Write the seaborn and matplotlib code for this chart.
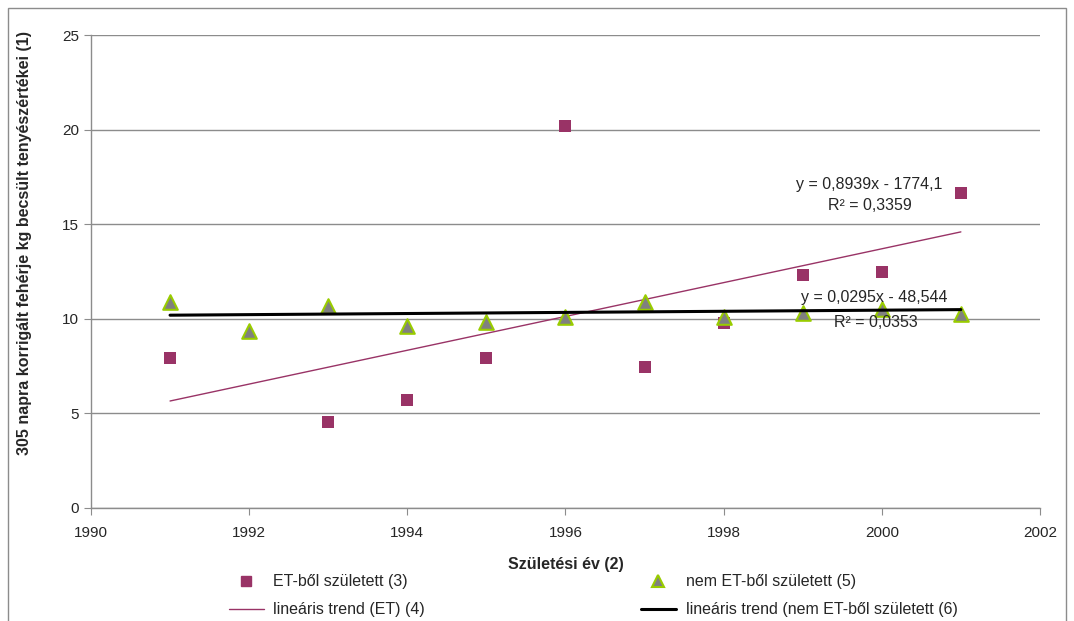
import matplotlib
matplotlib.use("Agg")
import matplotlib.pyplot as plt
import numpy as np
import pandas as pd
import seaborn as sns
from matplotlib.lines import Line2D
from matplotlib.patches import Rectangle

# data
et_years = [1991, 1993, 1994, 1995, 1996, 1997, 1998, 1999, 2000, 2001]
et_values = [7.93, 4.55, 5.71, 7.93, 20.19, 7.45, 9.79, 12.30, 12.47, 16.65]
nem_years = [1991, 1992, 1993, 1994, 1995, 1996, 1997, 1998, 1999, 2000, 2001]
nem_values = [10.89, 9.36, 10.68, 9.62, 9.83, 10.11, 10.90, 10.11, 10.29, 10.52, 10.25]

et_trend = (0.8939, -1774.1)
nem_trend = (0.0295, -48.544)
et_eq = ["y = 0,8939x - 1774,1", "R² = 0,3359"]
nem_eq = ["y = 0,0295x - 48,544", "R² = 0,0353"]

labels = [
    "ET-ből született (3)",
    "lineáris trend (ET) (4)",
    "nem ET-ből született (5)",
    "lineáris trend (nem ET-ből született (6)",
]
x_label = "Születési év (2)"
y_label = "305 napra korrigált fehérje kg becsült tenyészértékei (1)"

PLUM = "#993366"
GREEN = "#99CC00"
GREY = "#808080"
FS = 11.5

sns.set_style("white")
plt.rcParams["font.family"] = ["Liberation Sans", "DejaVu Sans"]

fig = plt.figure(figsize=(10.74, 6.21), dpi=100)
ax = fig.add_axes([0.0847, 0.1820, 0.8836, 0.7616])

# outer chart frame
fig.patches.append(Rectangle((8 / 1074, -0.05), 1058 / 1074, 1.05 - 8 / 621,
                             transform=fig.transFigure, fill=False,
                             edgecolor="#8c8c8c", linewidth=1.0))

et_df = pd.DataFrame({"year": et_years, "value": et_values})
nem_df = pd.DataFrame({"year": nem_years, "value": nem_values})

trend_x = np.array([min(et_years), max(et_years)], dtype=float)
et_line = pd.DataFrame({"year": trend_x, "value": et_trend[0] * trend_x + et_trend[1]})
trend_x2 = np.array([min(nem_years), max(nem_years)], dtype=float)
nem_line = pd.DataFrame({"year": trend_x2, "value": nem_trend[0] * trend_x2 + nem_trend[1]})

sns.lineplot(data=et_line, x="year", y="value", color=PLUM, linewidth=1.0, ax=ax, zorder=3)
sns.scatterplot(data=et_df, x="year", y="value", marker="s", s=80, color=PLUM,
                edgecolor=PLUM, linewidth=0, ax=ax, zorder=4)
sns.scatterplot(data=nem_df, x="year", y="value", marker="^", s=110, color=GREY,
                edgecolor=GREEN, linewidth=1.5, ax=ax, zorder=5)
sns.lineplot(data=nem_line, x="year", y="value", color="black", linewidth=2.2, ax=ax, zorder=6)

ax.text(1999.84, 17.12, et_eq[0], ha="center", va="center", fontsize=FS, zorder=7)
ax.text(1999.85, 16.01, et_eq[1], ha="center", va="center", fontsize=FS, zorder=7)
ax.text(1999.91, 11.10, nem_eq[0], ha="center", va="center", fontsize=FS, zorder=7)
ax.text(1999.93, 9.83, nem_eq[1], ha="center", va="center", fontsize=FS, zorder=7)

ax.set_xlim(1990, 2002)
ax.set_ylim(0, 25)
ax.set_xticks(range(1990, 2003, 2))
ax.set_yticks(range(0, 26, 5))
ax.yaxis.grid(True, color="#8c8c8c", linewidth=1.0)
ax.xaxis.grid(False)
ax.set_axisbelow(True)
for side in ("top", "right"):
    ax.spines[side].set_visible(False)
for side in ("left", "bottom"):
    ax.spines[side].set_color("#8c8c8c")
    ax.spines[side].set_linewidth(1.0)
ax.tick_params(axis="both", which="major", labelsize=11, length=5, color="#8c8c8c",
               direction="out", bottom=True, left=True)
ax.tick_params(axis="x", pad=8)
ax.set_xlabel(x_label, fontsize=FS, fontweight="bold")
ax.set_ylabel(y_label, fontsize=FS, fontweight="bold")
ax.xaxis.set_label_coords(0.5, -0.103)
ax.yaxis.set_label_coords(-0.062, 0.56)

handles = [
    Line2D([], [], marker="s", color=PLUM, linestyle="none", markersize=7),
    Line2D([], [], color=PLUM, linewidth=1.0),
    Line2D([], [], marker="^", markerfacecolor=GREY, markeredgecolor=GREEN,
           markeredgewidth=1.5, linestyle="none", markersize=8),
    Line2D([], [], color="black", linewidth=2.2),
]
fig.legend(handles, labels, ncol=2, loc="upper left", bbox_to_anchor=(0.213, 0.075),
           frameon=False, fontsize=FS, handlelength=2.2, handletextpad=0.6,
           columnspacing=13.5, labelspacing=0.8, borderaxespad=0, borderpad=0)

fig.savefig("out.png", dpi=100)
